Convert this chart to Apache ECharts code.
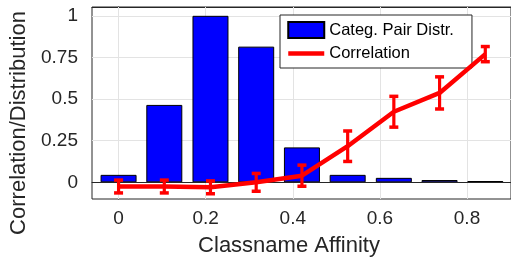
<!DOCTYPE html>
<html>
<head>
<meta charset="utf-8">
<script src="https://cdn.jsdelivr.net/npm/echarts@6/dist/echarts.min.js"></script>
<style>
  html, body { margin: 0; padding: 0; background: #fff; }
  #chart { width: 511px; height: 262px; }
</style>
</head>
<body>
<div id="chart"></div>
<script>
// bin centres on the affinity axis
const binCenters = [0, 0.105, 0.211, 0.316, 0.421, 0.526, 0.632, 0.737, 0.842]
const pairDistr = [0.045, 0.465, 1.0, 0.815, 0.21, 0.045, 0.027, 0.014, 0.008]
const correlation = [-0.025, -0.025, -0.03, 0.0, 0.04, 0.217, 0.424, 0.537, 0.77]
const corrErr = [0.04, 0.04, 0.04, 0.055, 0.065, 0.093, 0.094, 0.098, 0.047]
const xTicks = [0, 0.2, 0.4, 0.6, 0.8]
const yTicks = [0, 0.25, 0.5, 0.75, 1]

const textColor = '#262626'
const font = 'Liberation Sans'

const chart = echarts.init(document.getElementById('chart'))

const gridLines = []
xTicks.forEach(v => gridLines.push({ xAxis: v }))
yTicks.filter(v => v !== 0).forEach(v => gridLines.push({ yAxis: v }))

chart.setOption({
  animation: false,
  textStyle: { fontFamily: font, color: textColor },
  grid: { left: 92, right: 0, top: 7, bottom: 60, show: true, borderColor: textColor, borderWidth: 1 },
  legend: {
    data: [
      { name: 'Categ. Pair Distr.', icon: 'rect' },
      { name: 'Correlation', itemStyle: { color: 'rgba(0,0,0,0)', borderWidth: 0 }, lineStyle: { width: 4.5, color: '#ff0000' } }
    ],
    orient: 'vertical',
    left: 280,
    top: 15,
    itemWidth: 36,
    itemHeight: 16,
    itemGap: 6,
    padding: [6, 18, 6, 6],
    backgroundColor: '#fff',
    borderColor: textColor,
    borderWidth: 1,
    borderRadius: 0,
    textStyle: { fontFamily: font, fontSize: 16.5, color: '#000' }
  },
  xAxis: [{
    type: 'value',
    min: -0.061,
    max: 0.901,
    name: 'Classname Affinity',
    nameLocation: 'middle',
    nameGap: 36,
    nameTextStyle: { fontSize: 22, color: textColor, padding: [0, 25, 0, 0] },
    axisLine: { show: true, lineStyle: { color: textColor } },
    axisTick: { show: true, inside: true, length: 5, customValues: xTicks, lineStyle: { color: textColor } },
    axisLabel: { customValues: xTicks, fontSize: 19, color: textColor, margin: 10 },
    splitLine: { show: false }
  }, {
    type: 'value',
    position: 'top',
    min: -0.061,
    max: 0.901,
    axisLine: { show: true, lineStyle: { color: textColor } },
    axisTick: { show: true, inside: true, length: 5, customValues: xTicks, lineStyle: { color: textColor } },
    axisLabel: { show: false },
    splitLine: { show: false }
  }],
  yAxis: {
    type: 'value',
    min: -0.1,
    max: 1.053,
    name: 'Correlation/Distribution',
    nameLocation: 'middle',
    nameGap: 56,
    nameTextStyle: { fontSize: 22, color: textColor, padding: [0, 40, 0, 0] },
    axisLine: { show: true, lineStyle: { color: textColor } },
    axisTick: { show: true, inside: true, length: 5, customValues: yTicks, lineStyle: { color: textColor } },
    axisLabel: { customValues: yTicks, fontSize: 19, color: textColor, margin: 14 },
    splitLine: { show: false }
  },
  series: [
    {
      // light grid behind the bars
      name: 'grid',
      type: 'line',
      data: [],
      z: 1,
      silent: true,
      markLine: {
        z: 1,
        silent: true,
        symbol: 'none',
        label: { show: false },
        lineStyle: { color: '#e3e3e3', width: 1, type: 'solid' },
        data: gridLines
      }
    },
    {
      name: 'Categ. Pair Distr.',
      type: 'bar',
      barWidth: 36,
      z: 2,
      data: binCenters.map((x, i) => [x, pairDistr[i]]),
      itemStyle: { color: '#0000ff', borderColor: '#000', borderWidth: 1 },
      markLine: {
        z: 3,
        silent: true,
        symbol: 'none',
        label: { show: false },
        lineStyle: { color: '#262626', width: 1.2, type: 'solid' },
        data: [{ yAxis: 0 }]
      }
    },
    {
      name: 'Correlation',
      type: 'line',
      z: 4,
      symbol: 'none',
      data: binCenters.map((x, i) => [x, correlation[i]]),
      lineStyle: { color: '#ff0000', width: 4.5 },
      itemStyle: { color: '#ff0000' }
    },
    {
      name: 'errors',
      type: 'custom',
      z: 5,
      data: binCenters.map((x, i) => [x, correlation[i] - corrErr[i], correlation[i] + corrErr[i]]),
      renderItem: function (params, api) {
        const lo = api.coord([api.value(0), api.value(1)])
        const hi = api.coord([api.value(0), api.value(2)])
        const capW = 9
        const style = { fill: '#ff0000', stroke: null }
        return {
          type: 'group',
          children: [
            { type: 'rect', shape: { x: lo[0] - 1.6, y: hi[1], width: 3.2, height: lo[1] - hi[1] }, style: style },
            { type: 'rect', shape: { x: lo[0] - capW / 2, y: hi[1] - 1.5, width: capW, height: 3.5 }, style: style },
            { type: 'rect', shape: { x: lo[0] - capW / 2, y: lo[1] - 2, width: capW, height: 3.5 }, style: style }
          ]
        }
      }
    }
  ]
})
</script>
</body>
</html>
